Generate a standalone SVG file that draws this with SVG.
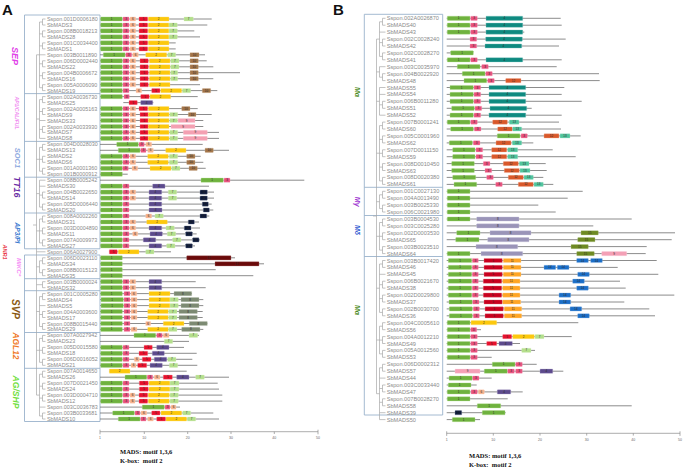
<svg xmlns="http://www.w3.org/2000/svg" width="685" height="469" viewBox="0 0 685 469">
<style>
text{font-family:"Liberation Sans",Arial,sans-serif}
.row path{stroke:#6e6e6e;stroke-width:0.8;fill:none}
.row rect{y:-2.1px;height:4.2px;rx:0.4px;stroke-width:0.6;stroke-opacity:0.6}
.row text{font-size:3px;fill:#2a2a2a;text-anchor:middle;dominant-baseline:central}
.row text.lb{font-size:5.4px;fill:#8a8a8a;text-anchor:start}
#pb .row text.lb{font-size:5.6px}
.a{fill:#6fb23e;stroke:#b0dc90}
.b{fill:#e8507c;stroke:#f6a8c0}
.c{fill:#f5b08a;stroke:#fbd6c0}
.d{fill:#e8102c;stroke:#f58a96}
.e{fill:#fcc80c;stroke:#fde48a}
.f{fill:#b4df8c;stroke:#dcf0c8}
.h{fill:#a27448;stroke:#d0b498}
.i{fill:#5c4a8c;stroke:#a89cc8}
.j{fill:#f4a0b2;stroke:#fad0da}
.k{fill:#0c1838;stroke:#7a86a0}
.m{fill:#6a0a0a;stroke:#b07070}
.n{fill:#7c8a72;stroke:#b8c2b0}
.t{fill:#0e8a80;stroke:#80c8c0}
.o{fill:#d9582a;stroke:#eea890}
.q{fill:#50c49c;stroke:#a8e4cc}
.s{fill:#9a94b8;stroke:#cac6dc}
.u{fill:#6e8a22;stroke:#b4c890}
.v{fill:#f4a0b6;stroke:#fad0dc}
.w{fill:#c8001e;stroke:#e88090}
.x{fill:#ffa524;stroke:#ffd294}
.z{fill:#1a6ec8;stroke:#8cb6e4}
.tree path{stroke:#a8a8a8;stroke-width:0.7;fill:none}
.box{fill:none;stroke:#9ab2cc;stroke-width:0.9}
.gl{font-weight:bold;font-style:italic;text-anchor:middle;dominant-baseline:central}
.ax path{stroke:#8a8a8a;stroke-width:0.7;fill:none}
.ax text{font-size:3.5px;fill:#666;text-anchor:middle}
.lg{font-family:"Liberation Serif","Times New Roman",serif;font-weight:bold;font-size:6.5px;fill:#111}
.pl{font-weight:bold;font-size:15px;fill:#111}
</style>
<text class="pl" x="2" y="15">A</text>
<text class="pl" x="333" y="15">B</text>
<g id="boxesA">
<path class="box" d="M24.5 15H100V248.8H24.5Z M24.5 93.6H100 M24.5 141.4H100 M24.5 177.2H100 M24.5 213H100"/>
<path class="box" d="M24.5 255H100V421.5H24.5Z M24.5 278.7H100 M24.5 290.7H100 M24.5 332.5H100 M24.5 368.3H100"/>
</g>
<g id="groupLabelsA">
<text class="gl" transform="translate(15,56) rotate(90)" font-size="9" fill="#e040e8">SEP</text>
<text class="gl" transform="translate(16.5,113) rotate(90)" font-size="5.1" fill="#f08cf0" font-weight="normal">AP1/CAL/FUL</text>
<text class="gl" transform="translate(17,158) rotate(90)" font-size="7.5" fill="#8ea8de">SOC1</text>
<text class="gl" transform="translate(17,187) rotate(90)" font-size="9" fill="#6a2ca4">TT16</text>
<text class="gl" transform="translate(17,233) rotate(90)" font-size="6.6" fill="#3a7ad0">AP3/PI</text>
<text class="gl" transform="translate(4.5,252) rotate(90)" font-size="5.5" fill="#e83040">ANR1</text>
<text class="gl" transform="translate(19,267) rotate(90)" font-size="6.2" fill="#f58ef5" font-weight="normal">MIKC*</text>
<text class="gl" transform="translate(15,309) rotate(90)" font-size="10" fill="#8a5a14">SVP</text>
<text class="gl" transform="translate(16,346) rotate(90)" font-size="8.4" fill="#f07a28">AGL12</text>
<text class="gl" transform="translate(16,392) rotate(90)" font-size="8.6" fill="#72e040">AG/SHP</text>
</g>
<g id="boxesB">
<path class="box" d="M364.3 14.3H442.7V415H364.3Z M364.3 187.3H442.7 M364.3 215.5H442.7 M364.3 256.5H442.7"/>
</g>
<g id="groupLabelsB">
<text class="gl" transform="translate(357.5,92) rotate(90)" font-size="7" fill="#4c8c1e">Mα</text>
<text class="gl" transform="translate(357.5,201.7) rotate(90)" font-size="7" fill="#9b30d0">Mγ</text>
<text class="gl" transform="translate(357.5,230) rotate(90)" font-size="7" fill="#2a56d0">Mδ</text>
<text class="gl" transform="translate(357.5,310) rotate(90)" font-size="7" fill="#4c8c1e">Mα</text>
</g>
<g id="connectors" class="tree">
<path d="M45.5 19H42.5V25H45.5M42.5 22H39.5 M45.5 30.9H42.5V36.9H45.5M42.5 33.9H39.5 M45.5 42.9H42.5V48.9H45.5M42.5 45.9H39.5 M45.5 54.8H39.5 M45.5 60.8H42.5V66.8H45.5M42.5 63.8H39.5 M45.5 72.7H42.5V78.7H45.5M42.5 75.7H39.5 M45.5 84.7H42.5V90.6H45.5M42.5 87.7H39.5 M39.5 22V87.7 M39.5 54.8H36.5"/>
<path d="M45.5 96.6H42.5V102.6H45.5M42.5 99.6H39.5 M45.5 108.6H42.5V114.5H45.5M42.5 111.5H39.5 M45.5 120.5H39.5 M45.5 126.5H42.5V132.4H45.5M42.5 129.4H39.5 M45.5 138.4H39.5 M39.5 99.6V138.4 M39.5 119H36.5"/>
<path d="M45.5 144.4H42.5V150.3H45.5M42.5 147.4H39.5 M45.5 156.3H42.5V162.3H45.5M42.5 159.3H39.5 M45.5 168.3H42.5V174.2H45.5M42.5 171.2H39.5 M39.5 147.4V171.2 M39.5 159.3H36.5"/>
<path d="M45.5 180.2H39.5 M45.5 186.2H39.5 M45.5 192.1H42.5V198.1H45.5M42.5 195.1H39.5 M45.5 204.1H42.5V210H45.5M42.5 207.1H39.5 M39.5 180.2V207.1 M39.5 193.6H36.5"/>
<path d="M45.5 216H42.5V222H45.5M42.5 219H39.5 M45.5 228H42.5V233.9H45.5M42.5 230.9H39.5 M45.5 239.9H42.5V245.9H45.5M42.5 242.9H39.5 M39.5 219V242.9 M39.5 230.9H36.5 M45.5 251.8H36.5"/>
<path d="M45.5 257.8H42.5V263.8H45.5M42.5 260.8H39.5 M45.5 269.7H42.5V275.7H45.5M42.5 272.7H39.5 M39.5 260.8V272.7 M39.5 266.8H36.5 M45.5 281.7H42.5V287.7H45.5M42.5 284.7H36.5"/>
<path d="M45.5 293.6H42.5V299.6H45.5M42.5 296.6H39.5 M45.5 305.6H39.5 M45.5 311.5H42.5V317.5H45.5M42.5 314.5H39.5 M45.5 323.5H42.5V329.4H45.5M42.5 326.5H39.5 M39.5 296.6V326.5 M39.5 311.5H36.5"/>
<path d="M45.5 335.4H42.5V341.4H45.5M42.5 338.4H39.5 M45.5 347.4H42.5V353.3H45.5M42.5 350.3H39.5 M45.5 359.3H42.5V365.3H45.5M42.5 362.3H39.5 M39.5 338.4V362.3 M39.5 350.3H36.5"/>
<path d="M45.5 371.2H42.5V377.2H45.5M42.5 374.2H39.5 M45.5 383.2H42.5V389.1H45.5M42.5 386.2H39.5 M45.5 395.1H42.5V401.1H45.5M42.5 398.1H39.5 M45.5 407.1H39.5 M45.5 413H42.5V419H45.5M42.5 416H39.5 M39.5 374.2V416 M39.5 395.1H36.5"/>
<path d="M36.5 54.8V395.1 M36.5 225H33"/>
<path d="M385.5 18.3H382.5V25.2H385.5M382.5 21.8H379.5 M385.5 32.1H379.5 M385.5 39.1H382.5V46H385.5M382.5 42.6H379.5 M385.5 52.9H382.5V59.8H385.5M382.5 56.4H379.5 M379.5 21.8V56.4 M379.5 39.1H376.5"/>
<path d="M385.5 66.7H379.5 M385.5 73.7H382.5V80.6H385.5M382.5 77.2H379.5 M379.5 66.7V77.2 M379.5 71.9H376.5"/>
<path d="M385.5 87.5H379.5 M385.5 94.4H379.5 M385.5 101.3H382.5V108.3H385.5M382.5 104.8H379.5 M385.5 115.2H379.5 M379.5 87.5V115.2 M379.5 101.3H376.5"/>
<path d="M385.5 122.1H382.5V129H385.5M382.5 125.6H379.5 M385.5 135.9H382.5V142.9H385.5M382.5 139.4H379.5 M385.5 149.8H382.5V156.7H385.5M382.5 153.3H379.5 M385.5 163.6H382.5V170.5H385.5M382.5 167.1H379.5 M385.5 177.4H382.5V184.4H385.5M382.5 180.9H379.5 M379.5 125.6V180.9 M379.5 153.2H376.5"/>
<path d="M385.5 191.3H382.5V198.2H385.5M382.5 194.8H379.5 M385.5 205.1H382.5V212H385.5M382.5 208.6H379.5 M379.5 194.8V208.6 M379.5 201.7H376.5"/>
<path d="M385.5 219H382.5V225.9H385.5M382.5 222.5H379.5 M385.5 232.8H382.5V239.7H385.5M382.5 236.3H379.5 M385.5 246.6H382.5V253.6H385.5M382.5 250.1H379.5 M379.5 222.5V250.1 M379.5 236.3H376.5"/>
<path d="M385.5 260.5H382.5V267.4H385.5M382.5 264H379.5 M385.5 274.3H379.5 M385.5 281.2H382.5V288.1H385.5M382.5 284.7H379.5 M385.5 295.1H382.5V302H385.5M382.5 298.6H379.5 M385.5 308.9H382.5V315.8H385.5M382.5 312.4H379.5 M379.5 264V312.4 M379.5 288.2H376.5"/>
<path d="M385.5 322.7H382.5V329.7H385.5M382.5 326.2H379.5 M385.5 336.6H382.5V343.5H385.5M382.5 340.1H379.5 M385.5 350.4H382.5V357.3H385.5M382.5 353.9H379.5 M379.5 326.2V353.9 M379.5 340H376.5"/>
<path d="M385.5 364.3H382.5V371.2H385.5M382.5 367.8H379.5 M385.5 378.1H379.5 M385.5 385H382.5V391.9H385.5M382.5 388.5H379.5 M385.5 398.8H382.5V405.8H385.5M382.5 402.3H379.5 M385.5 412.7H379.5 M385.5 419.6H379.5 M379.5 367.8V419.6 M379.5 393.7H376.5"/>
<path d="M376.5 39.1V393.7 M376.5 216H373"/>
</g>
<g id="pa">
<g class="row" id="a01" transform="translate(0,19)"><path d="M100 0H211.7"/><rect class="a" x="100.7" width="21.6"/><text x="111.5">1</text><rect class="b" x="123" width="6"/><text x="126">3</text><rect class="c" x="130" width="5.7"/><text x="132.9">6</text><rect class="d" x="139" width="8.7"/><text x="143.4">5</text><rect class="e" x="148.3" width="20.7"/><text x="158.7">2</text><rect class="f" x="184" width="9.3"/><text x="188.7">7</text><text class="lb" x="47">Sspon.001D0006180</text></g>
<g class="row" id="a02" transform="translate(0,25)"><path d="M100 0H207.3"/><rect class="a" x="100.7" width="21.6"/><text x="111.5">1</text><rect class="b" x="123" width="6"/><text x="126">3</text><rect class="c" x="130" width="5.7"/><text x="132.9">6</text><rect class="d" x="139" width="8.7"/><text x="143.4">5</text><rect class="e" x="148.3" width="20.7"/><text x="158.7">2</text><rect class="f" x="169" width="8.3"/><text x="173.2">7</text><text class="lb" x="47">SbMADS3</text></g>
<g class="row" id="a03" transform="translate(0,30.9)"><path d="M100 0H194.3"/><rect class="a" x="100.7" width="21.6"/><text x="111.5">1</text><rect class="b" x="123" width="6"/><text x="126">3</text><rect class="c" x="130" width="5.7"/><text x="132.9">6</text><rect class="d" x="139" width="8.7"/><text x="143.4">5</text><rect class="e" x="148.3" width="20.7"/><text x="158.7">2</text><rect class="f" x="169" width="8.3"/><text x="173.2">7</text><text class="lb" x="47">Sspon.008B0018213</text></g>
<g class="row" id="a04" transform="translate(0,36.9)"><path d="M100 0H200"/><rect class="a" x="100.7" width="21.6"/><text x="111.5">1</text><rect class="b" x="123" width="6"/><text x="126">3</text><rect class="c" x="130" width="5.7"/><text x="132.9">6</text><rect class="d" x="139" width="8.7"/><text x="143.4">5</text><rect class="e" x="148.3" width="20.7"/><text x="158.7">2</text><rect class="f" x="169" width="8.3"/><text x="173.2">7</text><text class="lb" x="47">SbMADS28</text></g>
<g class="row" id="a05" transform="translate(0,42.9)"><path d="M100 0H175.7"/><rect class="a" x="100.7" width="21.6"/><text x="111.5">1</text><rect class="b" x="123" width="6"/><text x="126">3</text><rect class="c" x="130" width="5.7"/><text x="132.9">6</text><rect class="d" x="139" width="8.7"/><text x="143.4">5</text><rect class="e" x="148.3" width="20.7"/><text x="158.7">2</text><text class="lb" x="47">Sspon.001C0034400</text></g>
<g class="row" id="a06" transform="translate(0,48.9)"><path d="M100 0H175.7"/><rect class="a" x="100.7" width="21.6"/><text x="111.5">1</text><rect class="b" x="123" width="6"/><text x="126">3</text><rect class="c" x="130" width="5.7"/><text x="132.9">6</text><rect class="d" x="139" width="8.7"/><text x="143.4">5</text><rect class="e" x="148.3" width="20.7"/><text x="158.7">2</text><text class="lb" x="47">SbMADS1</text></g>
<g class="row" id="a07" transform="translate(0,54.8)"><path d="M100 0H205"/><rect class="a" x="103.3" width="21.7"/><text x="114.2">1</text><rect class="b" x="125.7" width="6"/><text x="128.7">3</text><rect class="c" x="132.7" width="5.6"/><text x="135.5">6</text><rect class="e" x="145.7" width="21"/><text x="156.2">2</text><rect class="f" x="167.7" width="8"/><text x="171.7">7</text><rect class="h" x="190" width="9"/><text x="194.5">10</text><text class="lb" x="47">Sspon.003B0011890</text></g>
<g class="row" id="a08" transform="translate(0,60.8)"><path d="M100 0H206.7"/><rect class="a" x="100.7" width="21.6"/><text x="111.5">1</text><rect class="b" x="123" width="6"/><text x="126">3</text><rect class="c" x="130" width="5.7"/><text x="132.9">6</text><rect class="d" x="140" width="8.3"/><text x="144.2">5</text><rect class="e" x="149.3" width="20.7"/><text x="159.7">2</text><rect class="f" x="170.7" width="8.3"/><text x="174.9">7</text><rect class="h" x="190" width="8.3"/><text x="194.2">10</text><text class="lb" x="47">Sspon.006D0002440</text></g>
<g class="row" id="a09" transform="translate(0,66.8)"><path d="M100 0H213.3"/><rect class="a" x="100.7" width="21.6"/><text x="111.5">1</text><rect class="b" x="123" width="6"/><text x="126">3</text><rect class="c" x="130" width="5.7"/><text x="132.9">6</text><rect class="d" x="140" width="8.3"/><text x="144.2">5</text><rect class="e" x="149.3" width="20.7"/><text x="159.7">2</text><rect class="f" x="170.7" width="8.3"/><text x="174.9">7</text><rect class="h" x="190" width="8.3"/><text x="194.2">10</text><text class="lb" x="47">SbMADS22</text></g>
<g class="row" id="a10" transform="translate(0,72.7)"><path d="M100 0H240"/><rect class="a" x="100.7" width="21.6"/><text x="111.5">1</text><rect class="b" x="123" width="6"/><text x="126">3</text><rect class="c" x="130" width="5.7"/><text x="132.9">6</text><rect class="d" x="140" width="8.3"/><text x="144.2">5</text><rect class="e" x="149.3" width="20.7"/><text x="159.7">2</text><rect class="f" x="170.7" width="7"/><text x="174.2">7</text><rect class="h" x="190" width="8.3"/><text x="194.2">10</text><text class="lb" x="47">Sspon.004B0006672</text></g>
<g class="row" id="a11" transform="translate(0,78.7)"><path d="M100 0H213.3"/><rect class="a" x="100.7" width="21.6"/><text x="111.5">1</text><rect class="b" x="123" width="6"/><text x="126">3</text><rect class="c" x="130" width="5.7"/><text x="132.9">6</text><rect class="d" x="140" width="8.3"/><text x="144.2">5</text><rect class="e" x="149.3" width="20.7"/><text x="159.7">2</text><rect class="f" x="170.7" width="7"/><text x="174.2">7</text><rect class="h" x="190" width="8.3"/><text x="194.2">10</text><text class="lb" x="47">SbMADS16</text></g>
<g class="row" id="a12" transform="translate(0,84.7)"><path d="M100 0H200"/><rect class="a" x="100.7" width="21.6"/><text x="111.5">1</text><rect class="b" x="123" width="6"/><text x="126">3</text><rect class="c" x="130" width="5.7"/><text x="132.9">6</text><rect class="d" x="140" width="8.3"/><text x="144.2">5</text><rect class="e" x="149.3" width="20.7"/><text x="159.7">2</text><text class="lb" x="47">Sspon.005A0006090</text></g>
<g class="row" id="a13" transform="translate(0,90.6)"><path d="M100 0H217.3"/><rect class="a" x="100.7" width="21.6"/><text x="111.5">1</text><rect class="b" x="123" width="6"/><text x="126">3</text><rect class="c" x="136" width="5.7"/><text x="138.9">6</text><rect class="d" x="151.7" width="8.3"/><text x="155.9">5</text><rect class="e" x="160.7" width="21"/><text x="171.2">2</text><rect class="f" x="182.3" width="8.4"/><text x="186.5">7</text><rect class="h" x="202.3" width="8.4"/><text x="206.5">10</text><text class="lb" x="47">SbMADS19</text></g>
<g class="row" id="a14" transform="translate(0,96.6)"><path d="M100 0H197.7"/><rect class="a" x="100.7" width="21.6"/><text x="111.5">1</text><rect class="b" x="124" width="5.3"/><text x="126.7">3</text><rect class="d" x="140.7" width="8.6"/><text x="145">5</text><rect class="e" x="150" width="20.7"/><text x="160.4">2</text><text class="lb" x="47">Sspon.002A0036730</text></g>
<g class="row" id="a15" transform="translate(0,102.6)"><path d="M123.3 0H153.3"/><rect class="d" x="129" width="8.3"/><text x="133.2">5</text><rect class="i" x="140.7" width="12"/><text x="146.7">4</text><text class="lb" x="47">SbMADS25</text></g>
<g class="row" id="a16" transform="translate(0,108.6)"><path d="M100 0H197.7"/><rect class="a" x="100.7" width="21.6"/><text x="111.5">1</text><rect class="b" x="123" width="6"/><text x="126">3</text><rect class="c" x="130" width="5.7"/><text x="132.9">6</text><rect class="d" x="139" width="8.7"/><text x="143.4">5</text><rect class="e" x="148.3" width="20.7"/><text x="158.7">2</text><rect class="h" x="181.7" width="8.3"/><text x="185.9">10</text><text class="lb" x="47">Sspon.002A0005163</text></g>
<g class="row" id="a17" transform="translate(0,114.5)"><path d="M100 0H211.7"/><rect class="a" x="100.7" width="21.6"/><text x="111.5">1</text><rect class="b" x="123" width="6"/><text x="126">3</text><rect class="c" x="130" width="5.7"/><text x="132.9">6</text><rect class="d" x="140" width="8.3"/><text x="144.2">5</text><rect class="e" x="148.3" width="20.7"/><text x="158.7">2</text><rect class="f" x="169.7" width="8"/><text x="173.7">7</text><rect class="h" x="188.3" width="7.7"/><text x="192.2">10</text><text class="lb" x="47">SbMADS9</text></g>
<g class="row" id="a18" transform="translate(0,120.5)"><path d="M100 0H203.3"/><rect class="a" x="100.7" width="21.6"/><text x="111.5">1</text><rect class="b" x="123" width="6"/><text x="126">3</text><rect class="c" x="130" width="5.7"/><text x="132.9">6</text><rect class="d" x="140" width="8.3"/><text x="144.2">5</text><rect class="e" x="148.3" width="20.7"/><text x="158.7">2</text><rect class="f" x="169.7" width="8"/><text x="173.7">7</text><rect class="j" x="178" width="17"/><text x="186.5">9</text><text class="lb" x="47">SbMADS33</text></g>
<g class="row" id="a19" transform="translate(0,126.5)"><path d="M100 0H203.3"/><rect class="a" x="100.7" width="21.6"/><text x="111.5">1</text><rect class="b" x="123" width="6"/><text x="126">3</text><rect class="c" x="130" width="5.7"/><text x="132.9">6</text><rect class="d" x="140" width="8.3"/><text x="144.2">5</text><rect class="e" x="148.3" width="20.7"/><text x="158.7">2</text><rect class="j" x="171" width="24"/><text x="183">9</text><text class="lb" x="47">Sspon.002A0033930</text></g>
<g class="row" id="a20" transform="translate(0,132.4)"><path d="M100 0H219"/><rect class="a" x="100.7" width="21.6"/><text x="111.5">1</text><rect class="b" x="123" width="6"/><text x="126">3</text><rect class="c" x="130" width="5.7"/><text x="132.9">6</text><rect class="d" x="140" width="8.3"/><text x="144.2">5</text><rect class="e" x="148.3" width="20.7"/><text x="158.7">2</text><rect class="f" x="169.7" width="8"/><text x="173.7">7</text><rect class="j" x="183.3" width="24"/><text x="195.3">9</text><text class="lb" x="47">SbMADS7</text></g>
<g class="row" id="a21" transform="translate(0,138.4)"><path d="M100 0H219"/><rect class="a" x="100.7" width="21.6"/><text x="111.5">1</text><rect class="b" x="123" width="6"/><text x="126">3</text><rect class="c" x="130" width="5.7"/><text x="132.9">6</text><rect class="d" x="140" width="8.3"/><text x="144.2">5</text><rect class="e" x="148.3" width="20.7"/><text x="158.7">2</text><rect class="f" x="169.7" width="8"/><text x="173.7">7</text><rect class="j" x="183.3" width="24"/><text x="195.3">9</text><text class="lb" x="47">SbMADS8</text></g>
<g class="row" id="a22" transform="translate(0,144.4)"><path d="M100 0H202.7"/><rect class="a" x="116.7" width="21.6"/><text x="127.5">1</text><rect class="b" x="139" width="5.3"/><text x="141.7">3</text><rect class="c" x="145.7" width="6"/><text x="148.7">6</text><text class="lb" x="47">Sspon.004D0028030</text></g>
<g class="row" id="a23" transform="translate(0,150.3)"><path d="M100 0H229"/><rect class="a" x="118.3" width="21.7"/><text x="129.2">1</text><rect class="b" x="140.7" width="5.3"/><text x="143.4">3</text><rect class="c" x="147.7" width="5.6"/><text x="150.5">6</text><rect class="e" x="165.7" width="20.3"/><text x="175.9">2</text><rect class="h" x="205" width="8.3"/><text x="209.2">10</text><text class="lb" x="47">SbMADS13</text></g>
<g class="row" id="a24" transform="translate(0,156.3)"><path d="M100 0H200.7"/><rect class="a" x="100.7" width="21.6"/><text x="111.5">1</text><rect class="b" x="123" width="6"/><text x="126">3</text><rect class="c" x="130" width="5.7"/><text x="132.9">6</text><rect class="e" x="147.7" width="20.6"/><text x="158">2</text><rect class="f" x="169.3" width="8.4"/><text x="173.5">7</text><rect class="h" x="186.7" width="8.3"/><text x="190.9">10</text><text class="lb" x="47">SbMADS2</text></g>
<g class="row" id="a25" transform="translate(0,162.3)"><path d="M100 0H203.3"/><rect class="a" x="100.7" width="21.6"/><text x="111.5">1</text><rect class="b" x="123" width="6"/><text x="126">3</text><rect class="c" x="130" width="5.7"/><text x="132.9">6</text><rect class="e" x="147.7" width="20.6"/><text x="158">2</text><rect class="f" x="169.3" width="8.4"/><text x="173.5">7</text><rect class="h" x="186.7" width="8.3"/><text x="190.9">10</text><text class="lb" x="47">SbMADS6</text></g>
<g class="row" id="a26" transform="translate(0,168.3)"><path d="M100 0H205.7"/><rect class="a" x="100.7" width="21.6"/><text x="111.5">1</text><rect class="b" x="122.7" width="5.6"/><text x="125.5">3</text><rect class="c" x="132" width="5.7"/><text x="134.9">6</text><rect class="e" x="150" width="21"/><text x="160.5">2</text><rect class="f" x="171.7" width="8.3"/><text x="175.9">7</text><rect class="h" x="189" width="8.3"/><text x="193.2">10</text><text class="lb" x="47">Sspon.001A0001360</text></g>
<g class="row" id="a27" transform="translate(0,174.2)"><path d="M100 0H127.7"/><rect class="a" x="100.7" width="21.6"/><text x="111.5">1</text><text class="lb" x="47">Sspon.001B0000912</text></g>
<g class="row" id="a28" transform="translate(0,180.2)"><path d="M100 0H304.3"/><rect class="a" x="201" width="22.3"/><text x="212.2">1</text><rect class="b" x="224" width="6"/><text x="227">3</text><text class="lb" x="47">Sspon.008B0005242</text></g>
<g class="row" id="a29" transform="translate(0,186.2)"><path d="M100 0H209"/><rect class="a" x="100.7" width="21.6"/><text x="111.5">1</text><rect class="b" x="123" width="6"/><text x="126">3</text><rect class="i" x="152.7" width="12.3"/><text x="158.9">4</text><text class="lb" x="47">SbMADS30</text></g>
<g class="row" id="a30" transform="translate(0,192.1)"><path d="M100 0H214"/><rect class="a" x="100.7" width="21.6"/><text x="111.5">1</text><rect class="b" x="123" width="6"/><text x="126">3</text><rect class="c" x="130" width="5.7"/><text x="132.9">6</text><rect class="i" x="149" width="12.7"/><text x="155.4">4</text><rect class="f" x="168.3" width="8.4"/><text x="172.5">7</text><rect class="k" x="200" width="7.3"/><text x="203.7">11</text><text class="lb" x="47">Sspon.004B0022650</text></g>
<g class="row" id="a31" transform="translate(0,198.1)"><path d="M100 0H214"/><rect class="a" x="100.7" width="21.6"/><text x="111.5">1</text><rect class="b" x="123" width="6"/><text x="126">3</text><rect class="c" x="130" width="5.7"/><text x="132.9">6</text><rect class="i" x="149" width="12.7"/><text x="155.4">4</text><rect class="f" x="168.3" width="8.4"/><text x="172.5">7</text><rect class="k" x="200" width="7.3"/><text x="203.7">11</text><text class="lb" x="47">SbMADS14</text></g>
<g class="row" id="a32" transform="translate(0,204.1)"><path d="M100 0H211.7"/><rect class="a" x="100.7" width="21.6"/><text x="111.5">1</text><rect class="b" x="123" width="6"/><text x="126">3</text><rect class="i" x="149" width="12.7"/><text x="155.4">4</text><rect class="k" x="202.3" width="6"/><text x="205.3">11</text><text class="lb" x="47">Sspon.005D0006440</text></g>
<g class="row" id="a33" transform="translate(0,210)"><path d="M100 0H213.3"/><rect class="a" x="100.7" width="21.6"/><text x="111.5">1</text><rect class="b" x="123" width="6"/><text x="126">3</text><rect class="i" x="149" width="13"/><text x="155.5">4</text><rect class="k" x="203.3" width="6"/><text x="206.3">11</text><text class="lb" x="47">SbMADS20</text></g>
<g class="row" id="a34" transform="translate(0,216)"><path d="M100 0H209.3"/><rect class="a" x="100.7" width="21.6"/><text x="111.5">1</text><rect class="b" x="123" width="6"/><text x="126">3</text><rect class="c" x="145.7" width="6"/><text x="148.7">6</text><rect class="f" x="155" width="8.3"/><text x="159.2">7</text><rect class="k" x="200" width="6.7"/><text x="203.4">11</text><text class="lb" x="47">Sspon.008A0002260</text></g>
<g class="row" id="a35" transform="translate(0,222)"><path d="M100 0H199"/><rect class="a" x="100.7" width="21.6"/><text x="111.5">1</text><rect class="b" x="123" width="6"/><text x="126">3</text><rect class="c" x="130" width="5.7"/><text x="132.9">6</text><rect class="e" x="146.7" width="20.6"/><text x="157">2</text><rect class="k" x="188.3" width="6"/><text x="191.3">11</text><text class="lb" x="47">SbMADS31</text></g>
<g class="row" id="a36" transform="translate(0,228)"><path d="M100 0H200"/><rect class="a" x="100.7" width="21.6"/><text x="111.5">1</text><rect class="b" x="123" width="6"/><text x="126">3</text><rect class="c" x="130" width="5.7"/><text x="132.9">6</text><rect class="i" x="149" width="12.7"/><text x="155.4">4</text><rect class="f" x="166" width="8.3"/><text x="170.2">7</text><rect class="k" x="184.3" width="6.7"/><text x="187.7">11</text><text class="lb" x="47">Sspon.003D0004890</text></g>
<g class="row" id="a37" transform="translate(0,233.9)"><path d="M100 0H196.7"/><rect class="a" x="100.7" width="21.6"/><text x="111.5">1</text><rect class="b" x="123" width="6"/><text x="126">3</text><rect class="c" x="132.7" width="5"/><text x="135.2">6</text><rect class="i" x="150" width="12.3"/><text x="156.2">4</text><rect class="f" x="167.3" width="8.4"/><text x="171.5">7</text><rect class="k" x="185.7" width="6.6"/><text x="189">11</text><text class="lb" x="47">SbMADS11</text></g>
<g class="row" id="a38" transform="translate(0,239.9)"><path d="M100 0H200"/><rect class="a" x="100.7" width="21.6"/><text x="111.5">1</text><rect class="b" x="123" width="6"/><text x="126">3</text><rect class="i" x="143.3" width="12.4"/><text x="149.5">4</text><rect class="f" x="172.7" width="8.3"/><text x="176.9">7</text><rect class="k" x="192.7" width="6.3"/><text x="195.9">11</text><text class="lb" x="47">Sspon.007A0009973</text></g>
<g class="row" id="a39" transform="translate(0,245.9)"><path d="M100 0H195"/><rect class="a" x="100.7" width="21.6"/><text x="111.5">1</text><rect class="b" x="123" width="6"/><text x="126">3</text><rect class="i" x="149" width="12.7"/><text x="155.4">4</text><rect class="f" x="166.7" width="8.3"/><text x="170.9">7</text><rect class="k" x="185.7" width="6.6"/><text x="189">11</text><text class="lb" x="47">SbMADS27</text></g>
<g class="row" id="a40" transform="translate(0,251.8)"><path d="M109.3 0H171"/><rect class="d" x="109.3" width="8"/><text x="113.3">5</text><rect class="e" x="118.3" width="20.7"/><text x="128.7">2</text><rect class="f" x="145.7" width="8.3"/><text x="149.9">7</text><text class="lb" x="47">Sspon.006A0027900</text></g>
<g class="row" id="a41" transform="translate(0,257.8)"><path d="M100 0H235"/><rect class="a" x="100.7" width="21.6"/><text x="111.5">1</text><rect class="m" x="186.7" width="44.3"/><text x="208.9" fill="#e0b0b0">12</text><text class="lb" x="47">Sspon.006D0023110</text></g>
<g class="row" id="a42" transform="translate(0,263.8)"><path d="M100 0H264"/><rect class="a" x="100.7" width="21.6"/><text x="111.5">1</text><rect class="m" x="215" width="44"/><text x="237" fill="#e0b0b0">12</text><text class="lb" x="47">SbMADS34</text></g>
<g class="row" id="a43" transform="translate(0,269.7)"><path d="M100 0H215.7"/><rect class="a" x="100.7" width="21.6"/><text x="111.5">1</text><text class="lb" x="47">Sspon.008B0015123</text></g>
<g class="row" id="a44" transform="translate(0,275.7)"><path d="M100 0H253.3"/><rect class="a" x="100.7" width="21.6"/><text x="111.5">1</text><text class="lb" x="47">SbMADS35</text></g>
<g class="row" id="a45" transform="translate(0,281.7)"><path d="M100 0H195.7"/><rect class="a" x="100.7" width="21.6"/><text x="111.5">1</text><rect class="b" x="123" width="6"/><text x="126">3</text><rect class="c" x="130" width="5.7"/><text x="132.9">6</text><rect class="i" x="149" width="12.7"/><text x="155.4">4</text><text class="lb" x="47">Sspon.003B0000024</text></g>
<g class="row" id="a46" transform="translate(0,287.7)"><path d="M100 0H205.7"/><rect class="a" x="100.7" width="21.6"/><text x="111.5">1</text><rect class="b" x="123" width="6"/><text x="126">3</text><rect class="c" x="130" width="5.7"/><text x="132.9">6</text><rect class="i" x="149" width="12.7"/><text x="155.4">4</text><text class="lb" x="47">SbMADS32</text></g>
<g class="row" id="a47" transform="translate(0,293.6)"><path d="M100 0H192"/><rect class="a" x="100.7" width="21.6"/><text x="111.5">1</text><rect class="b" x="124" width="6"/><text x="127">3</text><rect class="c" x="131" width="5.7"/><text x="133.9">6</text><rect class="e" x="149" width="21"/><text x="159.5">2</text><rect class="n" x="174" width="17.7"/><text x="182.9">8</text><text class="lb" x="47">Sspon.001C0005280</text></g>
<g class="row" id="a48" transform="translate(0,299.6)"><path d="M100 0H203.3"/><rect class="a" x="101" width="22.3"/><text x="112.2">1</text><rect class="b" x="124" width="6"/><text x="127">3</text><rect class="c" x="131" width="6"/><text x="134">6</text><rect class="e" x="149" width="21"/><text x="159.5">2</text><rect class="f" x="170" width="8.3"/><text x="174.2">7</text><rect class="n" x="181" width="18"/><text x="190">8</text><text class="lb" x="47">SbMADS4</text></g>
<g class="row" id="a49" transform="translate(0,305.6)"><path d="M100 0H203.3"/><rect class="a" x="101" width="22.3"/><text x="112.2">1</text><rect class="b" x="124" width="6"/><text x="127">3</text><rect class="c" x="131" width="6"/><text x="134">6</text><rect class="e" x="149" width="21"/><text x="159.5">2</text><rect class="f" x="170" width="8.3"/><text x="174.2">7</text><rect class="n" x="181" width="18"/><text x="190">8</text><text class="lb" x="47">SbMADS5</text></g>
<g class="row" id="a50" transform="translate(0,311.5)"><path d="M100 0H202.7"/><rect class="a" x="100.7" width="21.6"/><text x="111.5">1</text><rect class="b" x="124" width="6"/><text x="127">3</text><rect class="c" x="131" width="6"/><text x="134">6</text><rect class="e" x="147.7" width="20.6"/><text x="158">2</text><rect class="f" x="168.7" width="8.3"/><text x="172.9">7</text><rect class="n" x="179" width="18.3"/><text x="188.2">8</text><text class="lb" x="47">Sspon.004A0003600</text></g>
<g class="row" id="a51" transform="translate(0,317.5)"><path d="M100 0H202.7"/><rect class="a" x="100.7" width="21.6"/><text x="111.5">1</text><rect class="b" x="124" width="6"/><text x="127">3</text><rect class="c" x="131" width="6"/><text x="134">6</text><rect class="e" x="147.7" width="20.6"/><text x="158">2</text><rect class="f" x="168.7" width="8.3"/><text x="172.9">7</text><rect class="n" x="179" width="18.3"/><text x="188.2">8</text><text class="lb" x="47">SbMADS17</text></g>
<g class="row" id="a52" transform="translate(0,323.5)"><path d="M100 0H207.3"/><rect class="a" x="100.7" width="21.6"/><text x="111.5">1</text><rect class="b" x="124" width="6"/><text x="127">3</text><rect class="c" x="145.7" width="5"/><text x="148.2">6</text><rect class="e" x="163.3" width="20.7"/><text x="173.7">2</text><rect class="n" x="189.3" width="18"/><text x="198.3">8</text><text class="lb" x="47">Sspon.008B0015440</text></g>
<g class="row" id="a53" transform="translate(0,329.4)"><path d="M100 0H203.3"/><rect class="a" x="100.7" width="21.6"/><text x="111.5">1</text><rect class="b" x="124" width="6"/><text x="127">3</text><rect class="c" x="131" width="6"/><text x="134">6</text><rect class="e" x="147.7" width="20.6"/><text x="158">2</text><rect class="f" x="168.7" width="8.3"/><text x="172.9">7</text><rect class="n" x="181.7" width="18.3"/><text x="190.9">8</text><text class="lb" x="47">SbMADS29</text></g>
<g class="row" id="a54" transform="translate(0,335.4)"><path d="M100 0H199"/><rect class="a" x="134" width="21.7"/><text x="144.9">1</text><rect class="b" x="156.7" width="5.6"/><text x="159.5">3</text><rect class="c" x="163.3" width="5.7"/><text x="166.2">6</text><rect class="f" x="189" width="8.7"/><text x="193.4">7</text><text class="lb" x="47">Sspon.007A0027942</text></g>
<g class="row" id="a55" transform="translate(0,341.4)"><path d="M100 0H189"/><rect class="f" x="164.3" width="8.4"/><text x="168.5">7</text><text class="lb" x="47">SbMADS23</text></g>
<g class="row" id="a56" transform="translate(0,347.4)"><path d="M100 0H184"/><rect class="a" x="100.7" width="21.6"/><text x="111.5">1</text><rect class="b" x="123" width="6"/><text x="126">3</text><rect class="d" x="144" width="8.3"/><text x="148.2">5</text><rect class="i" x="156.7" width="12.3"/><text x="162.9">4</text><text class="lb" x="47">Sspon.005D0015580</text></g>
<g class="row" id="a57" transform="translate(0,353.3)"><path d="M100 0H196.7"/><rect class="a" x="100.7" width="21.6"/><text x="111.5">1</text><rect class="b" x="123" width="6"/><text x="126">3</text><rect class="d" x="139" width="8.7"/><text x="143.4">5</text><rect class="i" x="152.3" width="12"/><text x="158.3">4</text><text class="lb" x="47">SbMADS18</text></g>
<g class="row" id="a58" transform="translate(0,359.3)"><path d="M100 0H192.3"/><rect class="a" x="100.7" width="21.6"/><text x="111.5">1</text><rect class="b" x="123" width="6"/><text x="126">3</text><rect class="c" x="134.3" width="5"/><text x="136.8">6</text><rect class="d" x="142.3" width="8.7"/><text x="146.7">5</text><rect class="i" x="154.3" width="12.4"/><text x="160.5">4</text><rect class="f" x="167.7" width="8.3"/><text x="171.9">7</text><text class="lb" x="47">Sspon.006D0016052</text></g>
<g class="row" id="a59" transform="translate(0,365.3)"><path d="M100 0H197.3"/><rect class="a" x="100.7" width="21.6"/><text x="111.5">1</text><rect class="b" x="123" width="6"/><text x="126">3</text><rect class="c" x="131" width="5"/><text x="133.5">6</text><rect class="d" x="137.7" width="9"/><text x="142.2">5</text><rect class="i" x="150" width="12.3"/><text x="156.2">4</text><rect class="f" x="169.3" width="8.4"/><text x="173.5">7</text><text class="lb" x="47">SbMADS21</text></g>
<g class="row" id="a60" transform="translate(0,371.2)"><path d="M109.3 0H186.7"/><rect class="e" x="109.3" width="20.7"/><text x="119.7">2</text><text class="lb" x="47">Sspon.007A0014650</text></g>
<g class="row" id="a61" transform="translate(0,377.2)"><path d="M100 0H229"/><rect class="a" x="125" width="21.7"/><text x="135.9">1</text><rect class="b" x="147.3" width="5.4"/><text x="150">3</text><rect class="c" x="154.3" width="5.7"/><text x="157.2">6</text><rect class="d" x="163.3" width="9"/><text x="167.8">5</text><rect class="i" x="176.7" width="12.3"/><text x="182.9">4</text><rect class="f" x="195.7" width="8.6"/><text x="200">7</text><text class="lb" x="47">SbMADS26</text></g>
<g class="row" id="a62" transform="translate(0,383.2)"><path d="M100 0H217.7"/><rect class="a" x="100.7" width="21.6"/><text x="111.5">1</text><rect class="b" x="123" width="6"/><text x="126">3</text><rect class="d" x="139.3" width="9"/><text x="143.8">5</text><rect class="e" x="149" width="21"/><text x="159.5">2</text><rect class="f" x="170" width="9"/><text x="174.5">7</text><text class="lb" x="47">Sspon.007D0021450</text></g>
<g class="row" id="a63" transform="translate(0,389.1)"><path d="M100 0H219"/><rect class="a" x="100.7" width="21.6"/><text x="111.5">1</text><rect class="b" x="123" width="6"/><text x="126">3</text><rect class="d" x="139.3" width="9"/><text x="143.8">5</text><rect class="e" x="149" width="21"/><text x="159.5">2</text><rect class="f" x="170" width="9"/><text x="174.5">7</text><text class="lb" x="47">SbMADS24</text></g>
<g class="row" id="a64" transform="translate(0,395.1)"><path d="M100 0H222.3"/><rect class="a" x="100.7" width="21.6"/><text x="111.5">1</text><rect class="b" x="123" width="6"/><text x="126">3</text><rect class="c" x="130" width="5"/><text x="132.5">6</text><rect class="d" x="139" width="8.7"/><text x="143.4">5</text><rect class="e" x="148.3" width="21"/><text x="158.8">2</text><rect class="f" x="170" width="8.3"/><text x="174.2">7</text><text class="lb" x="47">Sspon.003D0004710</text></g>
<g class="row" id="a65" transform="translate(0,401.1)"><path d="M100 0H222.3"/><rect class="a" x="100.7" width="21.6"/><text x="111.5">1</text><rect class="b" x="123" width="6"/><text x="126">3</text><rect class="c" x="130" width="5"/><text x="132.5">6</text><rect class="d" x="139" width="8.7"/><text x="143.4">5</text><rect class="e" x="148.3" width="21"/><text x="158.8">2</text><rect class="f" x="170" width="8.3"/><text x="174.2">7</text><text class="lb" x="47">SbMADS12</text></g>
<g class="row" id="a66" transform="translate(0,407.1)"><path d="M100 0H180"/><rect class="a" x="142.3" width="22"/><text x="153.3">1</text><rect class="b" x="165" width="5"/><text x="167.5">3</text><rect class="c" x="171" width="5"/><text x="173.5">6</text><text class="lb" x="47">Sspon.003C0036783</text></g>
<g class="row" id="a67" transform="translate(0,413)"><path d="M100 0H213.3"/><rect class="a" x="112.7" width="21.6"/><text x="123.5">1</text><rect class="b" x="135" width="5"/><text x="137.5">3</text><rect class="c" x="141" width="5.7"/><text x="143.9">6</text><rect class="d" x="151.7" width="8.3"/><text x="155.9">5</text><rect class="e" x="161" width="20.7"/><text x="171.4">2</text><rect class="f" x="182.7" width="8"/><text x="186.7">7</text><text class="lb" x="47">Sspon.003B0033681</text></g>
<g class="row" id="a68" transform="translate(0,419)"><path d="M100 0H219"/><rect class="a" x="118.3" width="21.7"/><text x="129.2">1</text><rect class="b" x="140.7" width="5.3"/><text x="143.4">3</text><rect class="c" x="147.7" width="5.6"/><text x="150.5">6</text><rect class="d" x="156.7" width="9"/><text x="161.2">5</text><rect class="e" x="166" width="20.7"/><text x="176.4">2</text><rect class="f" x="187.3" width="8.4"/><text x="191.5">7</text><text class="lb" x="47">SbMADS10</text></g>
</g>
<g id="pb">
<g class="row" id="b01" transform="translate(0,18.3)"><path d="M446.7 0H560.7"/><rect class="a" x="447.3" width="22.7"/><text x="458.7">1</text><rect class="b" x="470.7" width="6.6"/><text x="474">3</text><rect class="t" x="486" width="36.7"/><text x="504.4">4</text><text class="lb" x="386.7">Sspon.002A0026870</text></g>
<g class="row" id="b02" transform="translate(0,25.2)"><path d="M446.7 0H561.7"/><rect class="a" x="447.3" width="22.7"/><text x="458.7">1</text><rect class="b" x="470.7" width="6.6"/><text x="474">3</text><rect class="t" x="486" width="36.7"/><text x="504.4">4</text><text class="lb" x="386.7">SbMADS40</text></g>
<g class="row" id="b03" transform="translate(0,32.1)"><path d="M446.7 0H524.3"/><rect class="a" x="447.3" width="22.7"/><text x="458.7">1</text><rect class="b" x="470.7" width="6.6"/><text x="474">3</text><rect class="t" x="486" width="36.7"/><text x="504.4">4</text><text class="lb" x="386.7">SbMADS43</text></g>
<g class="row" id="b04" transform="translate(0,39.1)"><path d="M446.7 0H565.7"/><rect class="b" x="470" width="6.7"/><text x="473.4">3</text><rect class="t" x="485.7" width="36.6"/><text x="504">4</text><text class="lb" x="386.7">Sspon.002C0028240</text></g>
<g class="row" id="b05" transform="translate(0,46)"><path d="M446.7 0H559"/><rect class="b" x="470" width="6.7"/><text x="473.4">3</text><rect class="t" x="485" width="36.7"/><text x="503.4">4</text><text class="lb" x="386.7">SbMADS42</text></g>
<g class="row" id="b06" transform="translate(0,52.9)"><path d="M446.7 0H473.3"/><rect class="a" x="450.7" width="22.6"/><text x="462">1</text><text class="lb" x="386.7">Sspon.002C0028270</text></g>
<g class="row" id="b07" transform="translate(0,59.8)"><path d="M446.7 0H561.7"/><rect class="a" x="447.3" width="22.7"/><text x="458.7">1</text><rect class="b" x="470.7" width="6.6"/><text x="474">3</text><rect class="t" x="486" width="36.7"/><text x="504.4">4</text><text class="lb" x="386.7">SbMADS41</text></g>
<g class="row" id="b08" transform="translate(0,66.7)"><path d="M446.7 0H556.7"/><rect class="a" x="457.3" width="22.7"/><text x="468.7">1</text><rect class="b" x="481.7" width="6.6"/><text x="485">3</text><text class="lb" x="386.7">Sspon.003C0035970</text></g>
<g class="row" id="b09" transform="translate(0,73.7)"><path d="M446.7 0H599"/><rect class="a" x="462.3" width="22.7"/><text x="473.7">1</text><rect class="b" x="485.7" width="6.6"/><text x="489">3</text><text class="lb" x="386.7">Sspon.004B0022920</text></g>
<g class="row" id="b10" transform="translate(0,80.6)"><path d="M446.7 0H599.7"/><rect class="a" x="464" width="22.7"/><text x="475.4">1</text><rect class="b" x="487.7" width="6.6"/><text x="491">3</text><rect class="o" x="505.7" width="15.3"/><text x="513.4">12</text><text class="lb" x="386.7">SbMADS48</text></g>
<g class="row" id="b11" transform="translate(0,87.5)"><path d="M446.7 0H564.3"/><rect class="a" x="450" width="23.3"/><text x="461.7">1</text><rect class="b" x="474" width="6.7"/><text x="477.4">3</text><rect class="t" x="489" width="36.7"/><text x="507.4">4</text><text class="lb" x="386.7">SbMADS55</text></g>
<g class="row" id="b12" transform="translate(0,94.4)"><path d="M446.7 0H561.7"/><rect class="a" x="450" width="23.3"/><text x="461.7">1</text><rect class="b" x="474" width="6.7"/><text x="477.4">3</text><rect class="t" x="489" width="36.7"/><text x="507.4">4</text><text class="lb" x="386.7">SbMADS54</text></g>
<g class="row" id="b13" transform="translate(0,101.3)"><path d="M446.7 0H581.7"/><rect class="a" x="450" width="23.3"/><text x="461.7">1</text><rect class="b" x="474" width="6.7"/><text x="477.4">3</text><rect class="t" x="489" width="36.7"/><text x="507.4">4</text><text class="lb" x="386.7">Sspon.006B0011280</text></g>
<g class="row" id="b14" transform="translate(0,108.3)"><path d="M446.7 0H531.7"/><rect class="a" x="451.7" width="22.6"/><text x="463">1</text><rect class="b" x="475" width="6.7"/><text x="478.4">3</text><rect class="t" x="490" width="36.7"/><text x="508.4">4</text><text class="lb" x="386.7">SbMADS51</text></g>
<g class="row" id="b15" transform="translate(0,115.2)"><path d="M446.7 0H561.7"/><rect class="a" x="450" width="23.3"/><text x="461.7">1</text><rect class="b" x="474" width="6.7"/><text x="477.4">3</text><rect class="t" x="489" width="36.7"/><text x="507.4">4</text><text class="lb" x="386.7">SbMADS52</text></g>
<g class="row" id="b16" transform="translate(0,122.1)"><path d="M446.7 0H559"/><rect class="a" x="447.3" width="22.7"/><text x="458.7">1</text><rect class="b" x="470.7" width="6.6"/><text x="474">3</text><rect class="o" x="492.7" width="14.6"/><text x="500">12</text><rect class="q" x="509.3" width="9.7"/><text x="514.2">13</text><text class="lb" x="386.7">Sspon.007B0001241</text></g>
<g class="row" id="b17" transform="translate(0,129)"><path d="M446.7 0H561"/><rect class="a" x="450.7" width="22.6"/><text x="462">1</text><rect class="b" x="474.3" width="6.7"/><text x="477.7">3</text><rect class="o" x="497.7" width="14.6"/><text x="505">12</text><rect class="q" x="512.7" width="9"/><text x="517.2">13</text><text class="lb" x="386.7">SbMADS60</text></g>
<g class="row" id="b18" transform="translate(0,135.9)"><path d="M446.7 0H580.7"/><rect class="a" x="497.3" width="22.7"/><text x="508.7">1</text><rect class="b" x="521" width="6.3"/><text x="524.2">3</text><rect class="o" x="544" width="15"/><text x="551.5">12</text><rect class="q" x="560" width="10"/><text x="565">13</text><text class="lb" x="386.7">Sspon.005C0001960</text></g>
<g class="row" id="b19" transform="translate(0,142.9)"><path d="M446.7 0H533.3"/><rect class="a" x="449.3" width="23"/><text x="460.8">1</text><rect class="b" x="473.3" width="6.7"/><text x="476.7">3</text><rect class="o" x="496" width="15"/><text x="503.5">12</text><rect class="q" x="512.3" width="9.4"/><text x="517">13</text><text class="lb" x="386.7">SbMADS62</text></g>
<g class="row" id="b20" transform="translate(0,149.8)"><path d="M446.7 0H552.7"/><rect class="a" x="452.7" width="22.3"/><text x="463.9">1</text><rect class="b" x="476" width="6.7"/><text x="479.4">3</text><rect class="o" x="491.7" width="15"/><text x="499.2">12</text><rect class="q" x="507.7" width="10"/><text x="512.7">13</text><text class="lb" x="386.7">Sspon.007D0011150</text></g>
<g class="row" id="b21" transform="translate(0,156.7)"><path d="M446.7 0H575.7"/><rect class="a" x="452.7" width="22.3"/><text x="463.9">1</text><rect class="b" x="476" width="6.7"/><text x="479.4">3</text><rect class="o" x="491.7" width="15"/><text x="499.2">12</text><rect class="q" x="507.7" width="10"/><text x="512.7">13</text><text class="lb" x="386.7">SbMADS59</text></g>
<g class="row" id="b22" transform="translate(0,163.6)"><path d="M446.7 0H545.7"/><rect class="a" x="451.7" width="22.6"/><text x="463">1</text><rect class="b" x="483.3" width="6.7"/><text x="486.7">3</text><rect class="o" x="503.3" width="15"/><text x="510.8">12</text><rect class="q" x="519.3" width="9.7"/><text x="524.2">13</text><text class="lb" x="386.7">Sspon.008D0010450</text></g>
<g class="row" id="b23" transform="translate(0,170.5)"><path d="M446.7 0H546.7"/><rect class="a" x="451.7" width="22.6"/><text x="463">1</text><rect class="b" x="485" width="6.7"/><text x="488.4">3</text><rect class="o" x="504.3" width="15"/><text x="511.8">12</text><rect class="q" x="520" width="10"/><text x="525">13</text><text class="lb" x="386.7">SbMADS63</text></g>
<g class="row" id="b24" transform="translate(0,177.4)"><path d="M446.7 0H543.3"/><rect class="a" x="452.7" width="23"/><text x="464.2">1</text><rect class="b" x="486.7" width="6.6"/><text x="490">3</text><rect class="o" x="508.3" width="15"/><text x="515.8">12</text><rect class="q" x="524" width="9.3"/><text x="528.7">13</text><text class="lb" x="386.7">Sspon.008D0020380</text></g>
<g class="row" id="b25" transform="translate(0,184.4)"><path d="M446.7 0H553.3"/><rect class="a" x="454" width="22.7"/><text x="465.4">1</text><rect class="b" x="495.7" width="6.6"/><text x="499">3</text><rect class="o" x="518.3" width="15"/><text x="525.8">12</text><rect class="q" x="534" width="9.3"/><text x="538.7">13</text><text class="lb" x="386.7">SbMADS61</text></g>
<g class="row" id="b26" transform="translate(0,191.3)"><path d="M446.7 0H582.7"/><rect class="a" x="447.3" width="22.7"/><text x="458.7">1</text><text class="lb" x="386.7">Sspon.001C0027130</text></g>
<g class="row" id="b27" transform="translate(0,198.2)"><path d="M446.7 0H567.7"/><rect class="a" x="447.3" width="22.7"/><text x="458.7">1</text><text class="lb" x="386.7">Sspon.004A0013490</text></g>
<g class="row" id="b28" transform="translate(0,205.1)"><path d="M446.7 0H538.3"/><rect class="a" x="447.3" width="22.7"/><text x="458.7">1</text><text class="lb" x="386.7">Sspon.003B0025330</text></g>
<g class="row" id="b29" transform="translate(0,212)"><path d="M446.7 0H555.7"/><rect class="a" x="447.3" width="22.7"/><text x="458.7">1</text><text class="lb" x="386.7">Sspon.006C0021980</text></g>
<g class="row" id="b30" transform="translate(0,219)"><path d="M446.7 0H631.7"/><rect class="a" x="447.3" width="22.7"/><text x="458.7">1</text><rect class="s" x="476.7" width="42.3"/><text x="497.9">8</text><text class="lb" x="386.7">Sspon.003B0004530</text></g>
<g class="row" id="b31" transform="translate(0,225.9)"><path d="M446.7 0H593.3"/><rect class="s" x="476.7" width="42.3"/><text x="497.9">8</text><text class="lb" x="386.7">Sspon.003C0025280</text></g>
<g class="row" id="b32" transform="translate(0,232.8)"><path d="M446.7 0H675"/><rect class="a" x="456.7" width="23.3"/><text x="468.4">1</text><rect class="s" x="490" width="41"/><text x="510.5">8</text><rect class="u" x="581" width="17.3"/><text x="589.7">15</text><text class="lb" x="386.7">Sspon.002D0003530</text></g>
<g class="row" id="b33" transform="translate(0,239.7)"><path d="M446.7 0H671.7"/><rect class="a" x="455.7" width="23.3"/><text x="467.4">1</text><rect class="s" x="487.7" width="41.3"/><text x="508.4">8</text><rect class="u" x="577.7" width="17.3"/><text x="586.4">15</text><text class="lb" x="386.7">SbMADS65</text></g>
<g class="row" id="b34" transform="translate(0,246.6)"><path d="M446.7 0H646.7"/><rect class="s" x="476" width="41.7"/><text x="496.9">8</text><rect class="u" x="571" width="17.3"/><text x="579.7">15</text><text class="lb" x="386.7">Sspon.003B0023510</text></g>
<g class="row" id="b35" transform="translate(0,253.6)"><path d="M446.7 0H645.7"/><rect class="a" x="447.3" width="22.7"/><text x="458.7">1</text><rect class="s" x="481" width="41.7"/><text x="501.9">8</text><rect class="u" x="576.7" width="17.6"/><text x="585.5">15</text><rect class="v" x="601.7" width="25"/><text x="614.2">9</text><text class="lb" x="386.7">SbMADS64</text></g>
<g class="row" id="b36" transform="translate(0,260.5)"><path d="M446.7 0H656.7"/><rect class="a" x="448.3" width="23.4"/><text x="460">1</text><rect class="b" x="472.3" width="6"/><text x="475.3">3</text><rect class="w" x="484" width="18.3"/><text x="493.2">5</text><rect class="x" x="503.3" width="17.7"/><text x="512.2">11</text><rect class="z" x="576.7" width="11.6"/><text x="582.5">14</text><rect class="z" x="590.7" width="11.6"/><text x="596.5">14</text><text class="lb" x="386.7">Sspon.003B0017420</text></g>
<g class="row" id="b37" transform="translate(0,267.4)"><path d="M446.7 0H617.7"/><rect class="a" x="448.3" width="23.4"/><text x="460">1</text><rect class="b" x="472.3" width="6"/><text x="475.3">3</text><rect class="w" x="484" width="18.3"/><text x="493.2">5</text><rect class="x" x="503.3" width="17.7"/><text x="512.2">11</text><rect class="z" x="544" width="11.7"/><text x="549.9">14</text><rect class="z" x="557.3" width="11.7"/><text x="563.2">14</text><text class="lb" x="386.7">SbMADS46</text></g>
<g class="row" id="b38" transform="translate(0,274.3)"><path d="M446.7 0H658.3"/><rect class="a" x="448.3" width="23.4"/><text x="460">1</text><rect class="b" x="472.3" width="6"/><text x="475.3">3</text><rect class="w" x="484" width="18.3"/><text x="493.2">5</text><rect class="x" x="503.3" width="17.7"/><text x="512.2">11</text><rect class="z" x="577.7" width="11.6"/><text x="583.5">14</text><text class="lb" x="386.7">SbMADS45</text></g>
<g class="row" id="b39" transform="translate(0,281.2)"><path d="M446.7 0H620"/><rect class="a" x="448.3" width="23.4"/><text x="460">1</text><rect class="b" x="472.3" width="6"/><text x="475.3">3</text><rect class="w" x="483.3" width="18.4"/><text x="492.5">5</text><rect class="x" x="502.7" width="17.3"/><text x="511.4">11</text><rect class="z" x="572.7" width="11.6"/><text x="578.5">14</text><text class="lb" x="386.7">Sspon.006B0021670</text></g>
<g class="row" id="b40" transform="translate(0,288.1)"><path d="M446.7 0H625.7"/><rect class="a" x="448.3" width="23.4"/><text x="460">1</text><rect class="b" x="472.3" width="6"/><text x="475.3">3</text><rect class="w" x="483.3" width="18.4"/><text x="492.5">5</text><rect class="x" x="502.7" width="17.3"/><text x="511.4">11</text><rect class="z" x="576.7" width="11.6"/><text x="582.5">14</text><text class="lb" x="386.7">SbMADS38</text></g>
<g class="row" id="b41" transform="translate(0,295.1)"><path d="M446.7 0H674.3"/><rect class="a" x="448.3" width="23.4"/><text x="460">1</text><rect class="b" x="472.3" width="6"/><text x="475.3">3</text><rect class="w" x="483.3" width="18.4"/><text x="492.5">5</text><rect class="x" x="502.7" width="17.3"/><text x="511.4">11</text><rect class="z" x="559" width="11.7"/><text x="564.9">14</text><text class="lb" x="386.7">Sspon.002D0029800</text></g>
<g class="row" id="b42" transform="translate(0,302)"><path d="M446.7 0H624.3"/><rect class="a" x="449" width="23.3"/><text x="460.7">1</text><rect class="b" x="472.7" width="6.3"/><text x="475.9">3</text><rect class="w" x="484" width="18.3"/><text x="493.2">5</text><rect class="x" x="502.7" width="18"/><text x="511.7">11</text><rect class="z" x="559" width="11.7"/><text x="564.9">14</text><text class="lb" x="386.7">SbMADS37</text></g>
<g class="row" id="b43" transform="translate(0,308.9)"><path d="M446.7 0H649.3"/><rect class="a" x="449.3" width="23"/><text x="460.8">1</text><rect class="b" x="473.3" width="6"/><text x="476.3">3</text><rect class="w" x="485" width="18.3"/><text x="494.2">5</text><rect class="x" x="504.3" width="17.4"/><text x="513">11</text><rect class="z" x="570" width="11.7"/><text x="575.9">14</text><text class="lb" x="386.7">Sspon.002B0030700</text></g>
<g class="row" id="b44" transform="translate(0,315.8)"><path d="M446.7 0H655"/><rect class="a" x="449.3" width="23"/><text x="460.8">1</text><rect class="b" x="473.3" width="6"/><text x="476.3">3</text><rect class="w" x="485" width="18.3"/><text x="494.2">5</text><rect class="x" x="504.3" width="17.4"/><text x="513">11</text><rect class="z" x="577.7" width="11.6"/><text x="583.5">14</text><text class="lb" x="386.7">SbMADS36</text></g>
<g class="row" id="b45" transform="translate(0,322.7)"><path d="M446.7 0H578.3"/><rect class="a" x="447.3" width="22.7"/><text x="458.7">1</text><rect class="e" x="471" width="25.7"/><text x="483.9">2</text><text class="lb" x="386.7">Sspon.004C0005610</text></g>
<g class="row" id="b46" transform="translate(0,329.7)"><path d="M446.7 0H481"/><rect class="a" x="447.3" width="22.7"/><text x="458.7">1</text><rect class="b" x="470.7" width="6"/><text x="473.7">3</text><text class="lb" x="386.7">SbMADS56</text></g>
<g class="row" id="b47" transform="translate(0,336.6)"><path d="M446.7 0H571.7"/><rect class="a" x="447.3" width="22.7"/><text x="458.7">1</text><rect class="b" x="470.7" width="6.6"/><text x="474">3</text><rect class="d" x="502.7" width="9"/><text x="507.2">5</text><rect class="e" x="512.7" width="21.6"/><text x="523.5">2</text><rect class="f" x="535" width="9"/><text x="539.5">7</text><text class="lb" x="386.7">Sspon.004A0012210</text></g>
<g class="row" id="b48" transform="translate(0,343.5)"><path d="M446.7 0H520"/><rect class="a" x="447.3" width="22.7"/><text x="458.7">1</text><rect class="b" x="470.7" width="6.6"/><text x="474">3</text><rect class="d" x="486.7" width="10"/><text x="491.7">5</text><rect class="i" x="499" width="13.3"/><text x="505.7">4</text><text class="lb" x="386.7">SbMADS49</text></g>
<g class="row" id="b49" transform="translate(0,350.4)"><path d="M446.7 0H535"/><rect class="a" x="447.3" width="22.7"/><text x="458.7">1</text><rect class="b" x="470.7" width="6.6"/><text x="474">3</text><rect class="f" x="521.7" width="9.3"/><text x="526.4">7</text><text class="lb" x="386.7">Sspon.005A0012560</text></g>
<g class="row" id="b50" transform="translate(0,357.3)"><path d="M446.7 0H491.7"/><rect class="a" x="447.3" width="22.7"/><text x="458.7">1</text><rect class="b" x="470.7" width="6.6"/><text x="474">3</text><text class="lb" x="386.7">SbMADS53</text></g>
<g class="row" id="b51" transform="translate(0,364.3)"><path d="M446.7 0H536.7"/><rect class="a" x="492.3" width="22.7"/><text x="503.7">1</text><rect class="b" x="515.7" width="6.6"/><text x="519">3</text><text class="lb" x="386.7">Sspon.006D0002312</text></g>
<g class="row" id="b52" transform="translate(0,371.2)"><path d="M446.7 0H563.3"/><rect class="v" x="455" width="25"/><text x="467.5">9</text><rect class="a" x="484.3" width="23"/><text x="495.8">1</text><rect class="b" x="507.7" width="6.6"/><text x="511">3</text><rect class="b" x="515.7" width="6.6"/><text x="519">3</text><rect class="i" x="540" width="12.7"/><text x="546.4">4</text><text class="lb" x="386.7">SbMADS57</text></g>
<g class="row" id="b53" transform="translate(0,378.1)"><path d="M446.7 0H491.7"/><rect class="a" x="449" width="23.3"/><text x="460.7">1</text><rect class="b" x="472.7" width="6.3"/><text x="475.9">3</text><text class="lb" x="386.7">SbMADS44</text></g>
<g class="row" id="b54" transform="translate(0,385)"><path d="M446.7 0H476.7"/><rect class="a" x="448.3" width="22.7"/><text x="459.7">1</text><text class="lb" x="386.7">Sspon.003C0033440</text></g>
<g class="row" id="b55" transform="translate(0,391.9)"><path d="M446.7 0H522.7"/><rect class="a" x="447.3" width="22.7"/><text x="458.7">1</text><rect class="b" x="471" width="6.3"/><text x="474.2">3</text><rect class="c" x="478.3" width="6"/><text x="481.3">6</text><rect class="i" x="497.3" width="13.4"/><text x="504">4</text><text class="lb" x="386.7">SbMADS47</text></g>
<g class="row" id="b56" transform="translate(0,398.8)"><path d="M446.7 0H507.7"/><rect class="a" x="447.3" width="22.7"/><text x="458.7">1</text><text class="lb" x="386.7">Sspon.007B0028270</text></g>
<g class="row" id="b57" transform="translate(0,405.8)"><path d="M446.7 0H631.7"/><rect class="a" x="477.3" width="23.4"/><text x="489">1</text><text class="lb" x="386.7">SbMADS58</text></g>
<g class="row" id="b58" transform="translate(0,412.7)"><path d="M446.7 0H505.7"/><rect class="k" x="455" width="6.7"/><text x="458.4" fill="#bbb">11</text><rect class="a" x="482.3" width="22.7"/><text x="493.7">1</text><text class="lb" x="386.7">SbMADS39</text></g>
<g class="row" id="b59" transform="translate(0,419.6)"><path d="M446.7 0H480"/><rect class="a" x="452.3" width="22.7"/><text x="463.7">1</text><text class="lb" x="386.7">SbMADS50</text></g>
</g>
<g id="axisA" class="ax">
<path d="M100 431.7H318 M100 429.7V434.3 M144.3 431.7V434 M187.7 431.7V434 M231 431.7V434 M274.3 431.7V434 M318 429.7V434.3"/>
<text x="100" y="439">1</text><text x="144.3" y="439">10</text><text x="187.7" y="439">20</text><text x="231" y="439">30</text><text x="274.3" y="439">40</text><text x="318" y="439">50</text>
</g>
<g id="axisB" class="ax">
<path d="M446.7 433.3H680 M446.7 431.3V435.9 M493.3 433.3V435.6 M540 433.3V435.6 M586.7 433.3V435.6 M633.3 433.3V435.6 M680 431.3V435.9"/>
<text x="446.7" y="440.6">1</text><text x="493.3" y="440.6">10</text><text x="540" y="440.6">20</text><text x="586.7" y="440.6">30</text><text x="633.3" y="440.6">40</text><text x="680" y="440.6">50</text>
</g>
<g id="legendA">
<text class="lg" x="120" y="454.3">MADS: motif 1,3,6</text>
<text class="lg" x="120" y="463.3" xml:space="preserve">K-box:  motif 2</text>
</g>
<g id="legendB">
<text class="lg" x="469" y="457.7">MADS: motif 1,3,6</text>
<text class="lg" x="469" y="466.7" xml:space="preserve">K-box:  motif 2</text>
</g>
</svg>
